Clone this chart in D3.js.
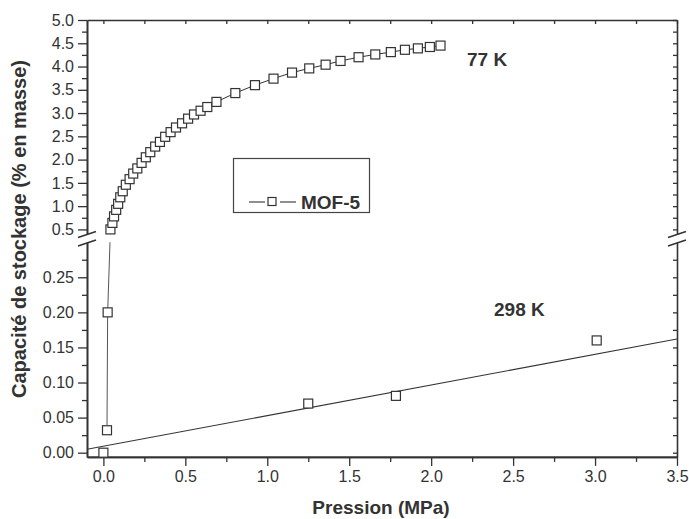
<!DOCTYPE html>
<html><head><meta charset="utf-8">
<script src="https://cdn.jsdelivr.net/npm/d3@7"></script>
<style>
body{margin:0;background:#fff}
svg{display:block}
text{font-family:"Liberation Sans",Arial,Helvetica,sans-serif}
</style>
</head><body><svg id="c" width="689" height="519"></svg>
<script>
// ---- data (MOF-5 hydrogen uptake) ----
const pressure77 = [0.022,0.026,0.043,0.055,0.065,0.078,0.090,0.103,0.118,0.137,0.160,0.182,0.207,0.233,0.259,0.286,0.316,0.345,0.377,0.410,0.443,0.480,0.517,0.553,0.593,0.634,0.690,0.805,0.925,1.038,1.151,1.256,1.356,1.447,1.557,1.659,1.754,1.840,1.919,1.992,2.057];
const capacity77 = [0.032,0.200,0.50,0.64,0.78,0.92,1.05,1.19,1.32,1.46,1.58,1.70,1.81,1.93,2.05,2.16,2.28,2.38,2.49,2.59,2.69,2.78,2.88,2.97,3.05,3.13,3.24,3.43,3.60,3.74,3.87,3.96,4.04,4.12,4.20,4.26,4.31,4.36,4.39,4.42,4.45];
const pressure298 = [0.0,1.25,1.785,3.01];
const capacity298 = [0.0,0.070,0.081,0.160];
const fit298X = [-0.1,3.5];
const fit298Y = [0.0048,0.162];
const xTicks = [0,0.5,1.0,1.5,2.0,2.5,3.0,3.5];
const yTicksUpper = [0.5,1.0,1.5,2.0,2.5,3.0,3.5,4.0,4.5,5.0];
const yTicksLower = [0,0.05,0.10,0.15,0.20,0.25];
const seriesName = "MOF-5";
const tempLabels = ["77 K","298 K"];
const xTitle = "Pression (MPa)";
const yTitle = "Capacité de stockage (% en masse)";

// ---- layout ----
const svg = d3.select("#c");
const L = 87, R = 677, T = 20, B = 456.9;
const x = d3.scaleLinear().domain([-0.1,3.5]).range([L,R]);
const yUp = d3.scaleLinear().domain([0.41,5.0]).range([233.6,T]);
const yLo = d3.scaleLinear().domain([-0.006,0.3]).range([B,242.2]);
const yAny = v => v > 0.3 ? yUp(v) : yLo(v);
const ink = "#333";

const defs = svg.append("defs");
defs.append("clipPath").attr("id","clipUp").append("rect")
  .attr("x",L).attr("y",T).attr("width",R-L).attr("height",233.6-T);
defs.append("clipPath").attr("id","clipLo").append("rect")
  .attr("x",L).attr("y",242.2).attr("width",R-L).attr("height",B-242.2);

// minor tick helpers
const mids = (arr, step) => arr.slice(0,-1).map(v => +(v+step).toFixed(4));
const xMinor = mids(xTicks,0.25);
const yUpMinor = mids(yTicksUpper,0.25);
const yLoMinor = mids(yTicksLower,0.025).concat([0.275]);

function styleAxis(g){
  g.selectAll("path.domain").attr("stroke",ink).attr("stroke-width",1.6);
  g.selectAll(".tick line").attr("stroke",ink).attr("stroke-width",1.3);
  g.selectAll(".tick text").attr("fill",ink).style("font-size","16px").style("font-family",'"Liberation Sans",Arial,sans-serif');
}

// bottom axis
svg.append("g").attr("transform",`translate(0,${B})`)
  .call(d3.axisBottom(x).tickValues(xTicks).tickFormat(d3.format(".1f")).tickSize(9).tickPadding(5).tickSizeOuter(0))
  .call(styleAxis);
svg.append("g").attr("transform",`translate(0,${B})`)
  .call(d3.axisBottom(x).tickValues(xMinor).tickFormat("").tickSize(5).tickSizeOuter(0))
  .call(styleAxis);
// top axis (inward ticks)
svg.append("g").attr("transform",`translate(0,${T})`)
  .call(d3.axisBottom(x).tickValues(xTicks.concat(xMinor)).tickFormat("").tickSize(4).tickSizeOuter(0))
  .call(styleAxis);

// left axis upper / lower
svg.append("g").attr("transform",`translate(${L},0)`)
  .call(d3.axisLeft(yUp).tickValues(yTicksUpper).tickFormat(d3.format(".1f")).tickSize(9).tickPadding(4).tickSizeOuter(0))
  .call(styleAxis);
svg.append("g").attr("transform",`translate(${L},0)`)
  .call(d3.axisLeft(yUp).tickValues(yUpMinor).tickFormat("").tickSize(5).tickSizeOuter(0))
  .call(styleAxis);
svg.append("g").attr("transform",`translate(${L},0)`)
  .call(d3.axisLeft(yLo).tickValues(yTicksLower).tickFormat(d3.format(".2f")).tickSize(9).tickPadding(4).tickSizeOuter(0))
  .call(styleAxis);
svg.append("g").attr("transform",`translate(${L},0)`)
  .call(d3.axisLeft(yLo).tickValues(yLoMinor).tickFormat("").tickSize(5).tickSizeOuter(0))
  .call(styleAxis);
// right axis (inward ticks)
svg.append("g").attr("transform",`translate(${R},0)`)
  .call(d3.axisLeft(yUp).tickValues(yTicksUpper.concat(yUpMinor)).tickFormat("").tickSize(4).tickSizeOuter(0))
  .call(styleAxis);
svg.append("g").attr("transform",`translate(${R},0)`)
  .call(d3.axisLeft(yLo).tickValues(yTicksLower.concat(yLoMinor)).tickFormat("").tickSize(4).tickSizeOuter(0))
  .call(styleAxis);

// axis break marks
[L, R].forEach(ax => {
  [[-9,237.5,9,231.5],[-9,246,9,240]].forEach(s => {
    svg.append("line").attr("x1",ax+s[0]).attr("y1",s[1]).attr("x2",ax+s[2]).attr("y2",s[3])
      .attr("stroke",ink).attr("stroke-width",1.5);
  });
});

// ---- 298 K fit line ----
const line = d3.line().x(d => x(d[0])).y(d => d[1]);
svg.append("path").attr("clip-path","url(#clipLo)")
  .attr("d", line(fit298X.map((v,i) => [v, yLo(fit298Y[i])])))
  .attr("fill","none").attr("stroke",ink).attr("stroke-width",1.1);

// ---- 77 K curve ----
const pts77 = pressure77.map((p,i) => [p, capacity77[i]]);
const lowPts = pts77.filter(d => d[1] <= 0.3);
const upPts = pts77.filter(d => d[1] > 0.3);
svg.append("path").attr("clip-path","url(#clipLo)")
  .attr("d", line(lowPts.concat([upPts[0]]).map(d => [d[0], yAny(d[1])])))
  .attr("fill","none").attr("stroke","#555").attr("stroke-width",1);
svg.append("path").attr("clip-path","url(#clipUp)")
  .attr("d", line(upPts.map(d => [d[0], yUp(d[1])])))
  .attr("fill","none").attr("stroke",ink).attr("stroke-width",1);

// markers
const S = 9;
function markers(data){
  svg.append("g").selectAll("rect").data(data).join("rect")
    .attr("x", d => x(d[0]) - S/2).attr("y", d => yAny(d[1]) - S/2)
    .attr("width",S).attr("height",S)
    .attr("fill","#fff").attr("stroke",ink).attr("stroke-width",1.2);
}
markers(pts77);
markers(pressure298.map((p,i) => [p, capacity298[i]]));

// ---- legend ----
const lg = svg.append("g");
lg.append("rect").attr("x",233.5).attr("y",158.5).attr("width",136).attr("height",54)
  .attr("fill","#fff").attr("stroke","#444").attr("stroke-width",1.2);
lg.append("line").attr("x1",249).attr("x2",265).attr("y1",202).attr("y2",202).attr("stroke",ink).attr("stroke-width",1.1);
lg.append("line").attr("x1",280).attr("x2",296).attr("y1",202).attr("y2",202).attr("stroke",ink).attr("stroke-width",1.1);
lg.append("rect").attr("x",272-S/2+0.5).attr("y",202-S/2).attr("width",S-1).attr("height",S-1)
  .attr("fill","#fff").attr("stroke",ink).attr("stroke-width",1.2);
lg.append("text").attr("x",301).attr("y",208.5).attr("fill",ink)
  .style("font-size","19px").style("font-weight","bold").text(seriesName);

// temperature labels
svg.append("text").attr("x",467).attr("y",66).attr("fill",ink)
  .style("font-size","19px").style("font-weight","bold").text(tempLabels[0]);
svg.append("text").attr("x",494).attr("y",316).attr("fill",ink)
  .style("font-size","19px").style("font-weight","bold").text(tempLabels[1]);

// titles
svg.append("text").attr("x",(L+R)/2 - 1).attr("y",514).attr("text-anchor","middle").attr("fill",ink)
  .style("font-size","19px").style("font-weight","bold").text(xTitle);
svg.append("text").attr("transform","translate(26,229) rotate(-90)").attr("text-anchor","middle").attr("fill",ink)
  .style("font-size","20px").style("font-weight","bold").text(yTitle);
</script>
</body></html>
